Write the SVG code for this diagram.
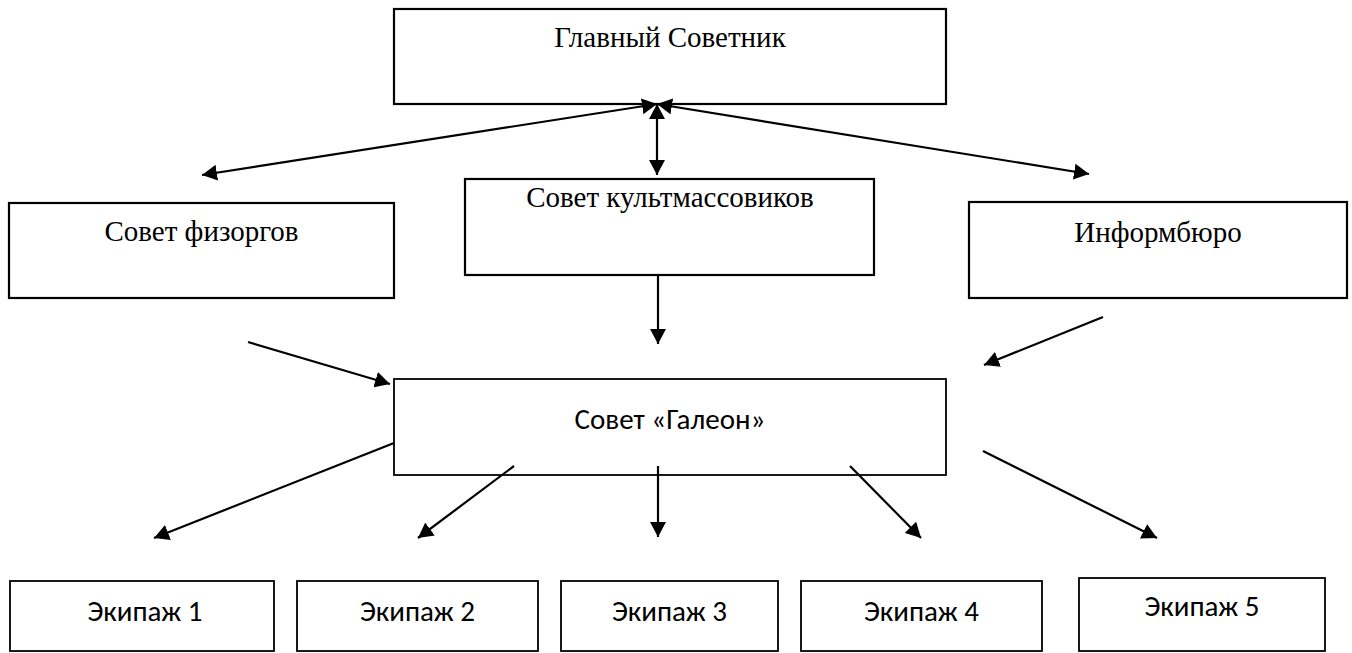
<svg xmlns="http://www.w3.org/2000/svg" width="1352" height="653" viewBox="0 0 1352 653">
<style>
.box{fill:#fff;stroke:#000;stroke-width:2.2}
.box2{fill:#fff;stroke:#000;stroke-width:1.8}
.ts{font-family:"Liberation Serif","Times New Roman",serif;font-size:29px;fill:#000;text-anchor:middle}
.cs{font-family:Carlito,Roboto,"Liberation Sans",sans-serif;font-size:29px;fill:#000;text-anchor:middle}
.ln{stroke:#000;stroke-width:2.2;fill:none}
</style>
<defs>
<marker id="ah" markerUnits="userSpaceOnUse" viewBox="0 0 15 16" refX="15" refY="8" markerWidth="15" markerHeight="16" orient="auto-start-reverse">
<path d="M0,0 L15,8 L0,16 z" fill="#000"/>
</marker>
</defs>
<rect width="1352" height="653" fill="#fff"/>
<g id="n-main"><rect class="box" x="394" y="9" width="552" height="95"/><text class="ts" x="670" y="47">Главный Советник</text></g>
<g id="n-kult"><rect class="box" x="465" y="179" width="409" height="96"/><text class="ts" x="670" y="207">Совет культмассовиков</text></g>
<g id="n-fiz"><rect class="box" x="9" y="203" width="385" height="95"/><text class="ts" x="201.5" y="241">Совет физоргов</text></g>
<g id="n-info"><rect class="box" x="969" y="202" width="378" height="96"/><text class="ts" x="1158" y="242">Информбюро</text></g>
<g id="n-galeon"><rect class="box2" x="394" y="379" width="552" height="96"/><text class="cs" x="670" y="429">Совет «Галеон»</text></g>
<g id="n-e1"><rect class="box2" x="10" y="581" width="264" height="70"/><text class="cs" x="145" y="621">Экипаж 1</text></g>
<g id="n-e2"><rect class="box2" x="297" y="581" width="241" height="70"/><text class="cs" x="417.5" y="621">Экипаж 2</text></g>
<g id="n-e3"><rect class="box2" x="561" y="581" width="217" height="70"/><text class="cs" x="669.5" y="621">Экипаж 3</text></g>
<g id="n-e4"><rect class="box2" x="801" y="581" width="241" height="70"/><text class="cs" x="921.5" y="621">Экипаж 4</text></g>
<g id="n-e5"><rect class="box2" x="1079" y="578" width="246" height="73"/><text class="cs" x="1202" y="616">Экипаж 5</text></g>
<g id="connectors">
<line class="ln" x1="657" y1="104" x2="202" y2="175" marker-start="url(#ah)" marker-end="url(#ah)"/>
<line class="ln" x1="657" y1="104" x2="1089" y2="174" marker-start="url(#ah)" marker-end="url(#ah)"/>
<line class="ln" x1="657" y1="104" x2="657" y2="175" marker-start="url(#ah)" marker-end="url(#ah)"/>
<line class="ln" x1="658" y1="275" x2="658" y2="344" marker-end="url(#ah)"/>
<line class="ln" x1="248" y1="342" x2="390" y2="384" marker-end="url(#ah)"/>
<line class="ln" x1="1103" y1="317" x2="984" y2="365" marker-end="url(#ah)"/>
<line class="ln" x1="394" y1="443" x2="154" y2="538" marker-end="url(#ah)"/>
<line class="ln" x1="514" y1="466" x2="418" y2="538" marker-end="url(#ah)"/>
<line class="ln" x1="658" y1="466" x2="658" y2="537" marker-end="url(#ah)"/>
<line class="ln" x1="850" y1="466" x2="921" y2="538" marker-end="url(#ah)"/>
<line class="ln" x1="983" y1="451" x2="1157" y2="538" marker-end="url(#ah)"/>
</g>
</svg>
